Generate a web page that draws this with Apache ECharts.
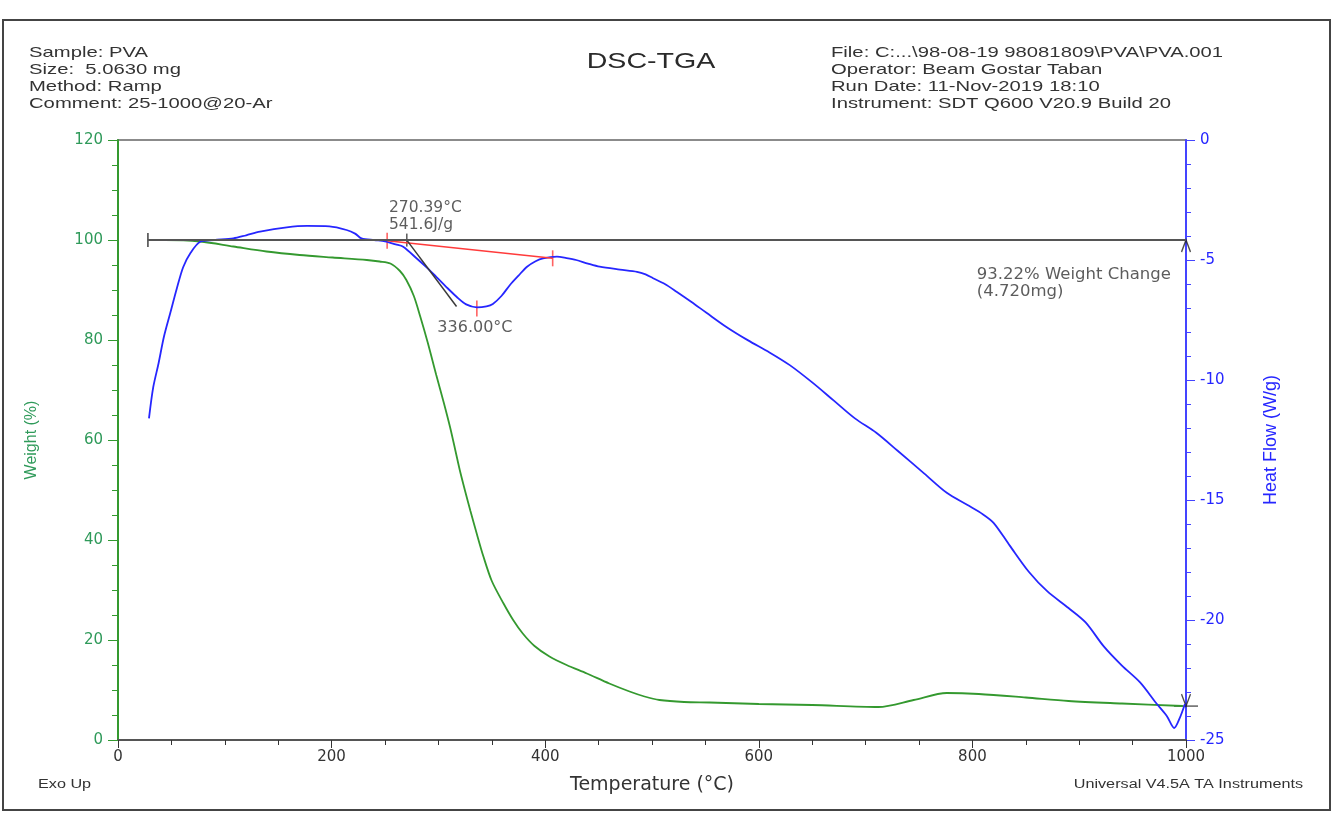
<!DOCTYPE html>
<html>
<head>
<meta charset="utf-8">
<title>DSC-TGA</title>
<script src="https://cdn.jsdelivr.net/npm/echarts@6/dist/echarts.min.js"></script>
<style>
html, body { margin: 0; padding: 0; background: #fff; }
#main { width: 1333px; height: 818px; }
</style>
</head>
<body>
<div id="main"></div>
<script>
// TGA curve: temperature (°C) / weight (%)
var tgaTemp = [30, 44, 77, 108, 139, 170, 201, 233, 245, 255, 264, 270, 277, 283, 290, 298, 305, 311, 316, 320, 325, 330, 336, 342, 350, 361, 370, 379, 390, 404, 420, 439, 460, 479, 493, 507, 530, 554, 600, 650, 712, 745, 776, 806, 850, 890, 940, 997];
var tgaWeight = [100, 100, 99.7, 98.7, 97.7, 97.0, 96.5, 96.0, 95.7, 95.3, 93.8, 92.0, 88.8, 84.7, 79.5, 73.0, 67.5, 62.5, 57.8, 54.0, 49.8, 45.8, 41.2, 36.8, 31.8, 27.3, 24.0, 21.3, 18.8, 16.7, 15.0, 13.3, 11.3, 9.7, 8.7, 8.0, 7.6, 7.5, 7.2, 7.0, 6.6, 8.0, 9.4, 9.2, 8.5, 7.8, 7.3, 6.8];

// DSC curve: temperature (°C) / heat flow (W/g)
var dscTemp = [29, 33, 38, 43, 49, 55, 61, 68, 77, 90, 108, 120, 133, 158, 177, 198, 214, 222, 228, 240, 250, 260, 267, 280, 290, 298, 308, 317, 326, 336, 345, 351, 359, 367, 375, 383, 391, 398, 411, 420, 429, 440, 451, 470, 486, 494, 501, 512, 523, 537, 551, 570, 590, 610, 629, 650, 670, 690, 710, 730, 755, 776, 795, 810, 820, 835, 853, 870, 890, 906, 923, 940, 957, 972, 982, 989, 994, 999];
var dscFlow = [-11.6, -10.3, -9.3, -8.2, -7.2, -6.2, -5.3, -4.7, -4.24, -4.17, -4.1, -3.97, -3.82, -3.64, -3.58, -3.6, -3.75, -3.9, -4.1, -4.17, -4.22, -4.35, -4.45, -4.95, -5.35, -5.7, -6.15, -6.53, -6.85, -6.97, -6.93, -6.83, -6.5, -6.04, -5.65, -5.28, -5.05, -4.93, -4.86, -4.92, -5.0, -5.15, -5.28, -5.4, -5.49, -5.6, -5.76, -6.0, -6.32, -6.75, -7.2, -7.8, -8.35, -8.85, -9.38, -10.1, -10.85, -11.6, -12.2, -12.95, -13.9, -14.7, -15.2, -15.6, -15.96, -16.9, -18.0, -18.8, -19.5, -20.1, -21.1, -21.9, -22.6, -23.46, -24.0, -24.5, -24.1, -23.5];

// analysis marks
var weightBaseT = [28, 1000];
var weightBaseW = [100, 100];
var peakBaseT = [252, 407];
var peakBaseHF = [-4.2, -4.93];
var tangentT = [270.4, 317];
var tangentHF = [-4.17, -6.94];
var peakT = 336.0;
var peakHF = -7.02;
var weightEnd = 6.78;

var xTicks = { min: 0, max: 1000, interval: 200 };
var leftTicks = { min: 0, max: 120, interval: 20 };
var rightTicks = { min: -25, max: 0, interval: 5 };

var headerLeft = 'Sample: PVA\nSize:  5.0630 mg\nMethod: Ramp\nComment: 25-1000@20-Ar';
var headerRight = 'File: C:...\\98-08-19 98081809\\PVA\\PVA.001\nOperator: Beam Gostar Taban\nRun Date: 11-Nov-2019 18:10\nInstrument: SDT Q600 V20.9 Build 20';

function zip(a, b) {
  var out = [];
  for (var i = 0; i < a.length; i++) out.push([a[i], b[i]]);
  return out;
}

var GREEN = '#34992f';
var GREEN_TXT = '#2f9a5a';
var BLUE = '#2626ff';
var RED = '#ff3b3b';
var DARK = '#3a3a3a';
var FONT = 'Liberation Sans, Arial, sans-serif';
var WIDE = 'DejaVu Sans, sans-serif';

var myChart = echarts.init(document.getElementById('main'));

var option = {
  animation: false,
  backgroundColor: '#fff',
  grid: {
    left: 118,
    right: 147,
    top: 140,
    bottom: 78,
    show: true,
    borderColor: '#666',
    borderWidth: 1.5
  },
  graphic: [
    { type: 'rect', shape: { x: 3, y: 20, width: 1327, height: 790 }, style: { fill: 'none', stroke: '#444', lineWidth: 2 }, z: -1 },
    { type: 'text', x: 29, y: 44, scaleX: 1.35,
      style: { text: headerLeft, fill: '#333', fontSize: 15, fontFamily: FONT, lineHeight: 17, align: 'left', verticalAlign: 'top' } },
    { type: 'text', x: 831, y: 44, scaleX: 1.35,
      style: { text: headerRight, fill: '#333', fontSize: 15, fontFamily: FONT, lineHeight: 17, align: 'left', verticalAlign: 'top' } },
    { type: 'text', x: 651, y: 62, scaleX: 1.3,
      style: { text: 'DSC-TGA', fill: '#2a2a2a', fontSize: 22, fontFamily: FONT, align: 'center', verticalAlign: 'middle' } },
    { type: 'text', x: 38, y: 785, scaleX: 1.35,
      style: { text: 'Exo Up', fill: '#333', fontSize: 12, fontFamily: FONT, align: 'left', verticalAlign: 'middle' } },
    { type: 'text', x: 1303, y: 785, scaleX: 1.35,
      style: { text: 'Universal V4.5A TA Instruments', fill: '#333', fontSize: 12, fontFamily: FONT, align: 'right', verticalAlign: 'middle' } }
  ],
  xAxis: {
    type: 'value',
    min: xTicks.min,
    max: xTicks.max,
    interval: xTicks.interval,
    name: 'Temperature (°C)',
    nameLocation: 'middle',
    nameGap: 36,
    nameTextStyle: { color: '#333', fontSize: 19, fontFamily: WIDE },
    axisLine: { lineStyle: { color: '#555', width: 2 } },
    axisTick: { show: true, inside: false, length: 8, lineStyle: { color: '#333' } },
    minorTick: { show: true, splitNumber: 4, length: 5, lineStyle: { color: '#333' } },
    axisLabel: { color: '#333', fontSize: 15, fontFamily: WIDE, margin: 10, formatter: function (v) { return String(v); } },
    splitLine: { show: false }
  },
  yAxis: [{
    type: 'value',
    position: 'left',
    min: leftTicks.min,
    max: leftTicks.max,
    interval: leftTicks.interval,
    name: 'Weight (%)',
    nameLocation: 'middle',
    nameRotate: 90,
    nameGap: 78,
    nameTextStyle: { color: GREEN_TXT, fontSize: 16, fontFamily: FONT },
    axisLine: { show: true, lineStyle: { color: GREEN, width: 2 } },
    axisTick: { show: true, inside: false, length: 10, lineStyle: { color: GREEN } },
    minorTick: { show: true, splitNumber: 4, length: 6, lineStyle: { color: GREEN } },
    axisLabel: { color: GREEN_TXT, fontSize: 15, fontFamily: WIDE, margin: 15 },
    splitLine: { show: false }
  }, {
    type: 'value',
    position: 'right',
    min: rightTicks.min,
    max: rightTicks.max,
    interval: rightTicks.interval,
    name: 'Heat Flow (W/g)',
    nameLocation: 'middle',
    nameRotate: 90,
    nameGap: 76,
    nameTextStyle: { color: BLUE, fontSize: 18, fontFamily: FONT },
    axisLine: { show: true, lineStyle: { color: '#4444ff', width: 2 } },
    axisTick: { show: true, inside: false, length: 9, lineStyle: { color: '#4444ff' } },
    minorTick: { show: true, splitNumber: 5, length: 5, lineStyle: { color: '#4444ff' } },
    axisLabel: { color: BLUE, fontSize: 15, fontFamily: WIDE, margin: 14 },
    splitLine: { show: false }
  }],
  series: [
    {
      name: 'Weight',
      type: 'line',
      yAxisIndex: 0,
      smooth: 0.3,
      showSymbol: false,
      lineStyle: { color: GREEN, width: 1.8 },
      data: zip(tgaTemp, tgaWeight)
    },
    {
      name: 'Heat Flow',
      type: 'line',
      yAxisIndex: 1,
      smooth: 0.3,
      showSymbol: false,
      lineStyle: { color: BLUE, width: 1.8 },
      data: zip(dscTemp, dscFlow)
    },
    {
      name: 'Peak baseline',
      type: 'line',
      yAxisIndex: 1,
      showSymbol: false,
      lineStyle: { color: RED, width: 1.5 },
      data: zip(peakBaseT, peakBaseHF)
    },
    {
      name: 'Onset tangent',
      type: 'line',
      yAxisIndex: 1,
      showSymbol: false,
      lineStyle: { color: DARK, width: 1.5 },
      data: zip(tangentT, tangentHF)
    },
    {
      name: 'Weight baseline',
      type: 'line',
      yAxisIndex: 0,
      showSymbol: false,
      lineStyle: { color: '#555', width: 1.8 },
      data: zip(weightBaseT, weightBaseW)
    },
    {
      name: 'Peak ticks',
      type: 'scatter',
      yAxisIndex: 1,
      symbol: 'rect',
      symbolSize: [1.6, 16],
      itemStyle: { color: RED },
      data: [[peakBaseT[0], peakBaseHF[0]], [peakBaseT[1], peakBaseHF[1]], [peakT, peakHF]]
    },
    {
      name: 'Onset tick',
      type: 'scatter',
      yAxisIndex: 1,
      symbol: 'rect',
      symbolSize: [1.6, 13],
      itemStyle: { color: DARK },
      data: [[tangentT[0], tangentHF[0]]],
      label: {
        show: true,
        position: [-17, -34],
        align: 'left',
        verticalAlign: 'top',
        formatter: '270.39°C\n541.6J/g',
        color: '#333',
        fontSize: 15.5,
        lineHeight: 17,
        fontFamily: WIDE
      }
    },
    {
      name: 'Peak label',
      type: 'scatter',
      yAxisIndex: 1,
      symbolSize: 1,
      itemStyle: { color: 'rgba(0,0,0,0)' },
      data: [[peakT, dscFlow[dscTemp.indexOf(336)]]],
      label: {
        show: true,
        position: [-39, 13],
        align: 'left',
        verticalAlign: 'top',
        formatter: '336.00°C',
        color: '#333',
        fontSize: 16,
        fontFamily: WIDE
      }
    },
    {
      name: 'Baseline cap',
      type: 'scatter',
      yAxisIndex: 0,
      symbol: 'rect',
      symbolSize: [1.8, 14],
      itemStyle: { color: DARK },
      data: [[weightBaseT[0], weightBaseW[0]]]
    },
    {
      name: 'Step bar',
      type: 'scatter',
      yAxisIndex: 0,
      symbol: 'rect',
      symbolSize: [24, 1.5],
      itemStyle: { color: DARK },
      data: [[weightBaseT[1], weightEnd]]
    },
    {
      name: 'Step top',
      type: 'scatter',
      yAxisIndex: 0,
      symbol: 'path://M0,10 L5,0 L10,10',
      symbolSize: [9, 12],
      symbolOffset: [0, '50%'],
      itemStyle: { color: 'rgba(0,0,0,0)', borderColor: '#222', borderWidth: 1.5 },
      data: [[weightBaseT[1], weightBaseW[1]]],
      label: {
        show: true,
        position: [-204, 27],
        align: 'left',
        verticalAlign: 'top',
        formatter: (100 - weightEnd).toFixed(2) + '% Weight Change\n(4.720mg)',
        color: '#333',
        fontSize: 16.5,
        lineHeight: 17,
        fontFamily: WIDE
      }
    },
    {
      name: 'Step bottom',
      type: 'scatter',
      yAxisIndex: 0,
      symbol: 'path://M0,0 L5,10 L10,0',
      symbolSize: [9, 12],
      symbolOffset: [0, '-50%'],
      itemStyle: { color: 'rgba(0,0,0,0)', borderColor: '#222', borderWidth: 1.5 },
      data: [[weightBaseT[1], weightEnd]]
    }
  ]
};

myChart.setOption(option);
window.addEventListener('resize', function () {
  myChart.resize();
});
</script>
</body>
</html>
